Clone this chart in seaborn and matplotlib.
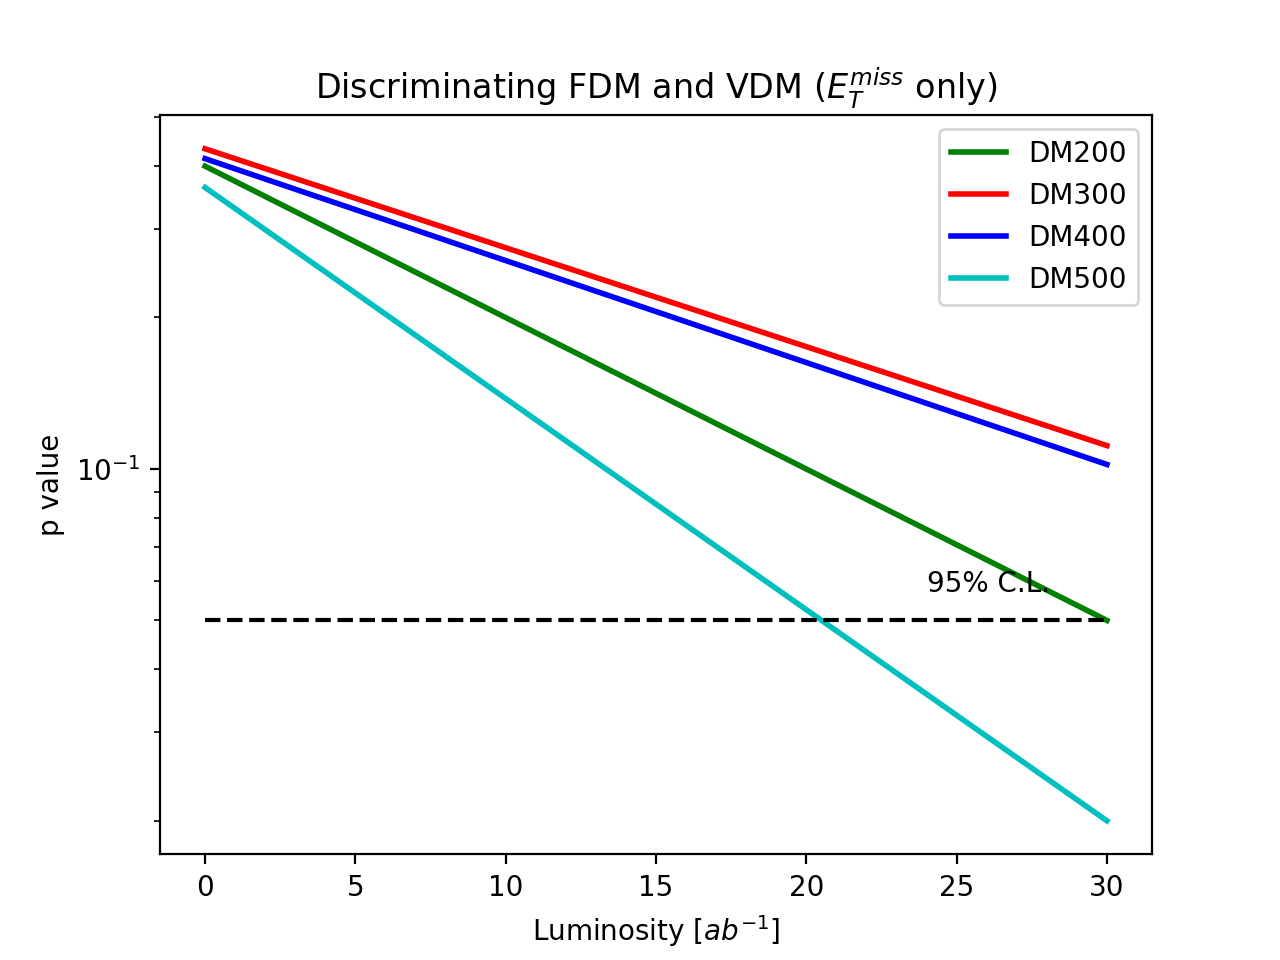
import matplotlib
matplotlib.use("Agg")
import matplotlib.pyplot as plt
import seaborn as sns
import pandas as pd

luminosity = [0, 30]
dm200 = [0.399, 0.050]
dm300 = [0.432, 0.1112]
dm400 = [0.413, 0.102]
dm500 = [0.362, 0.020]
series_names = ["DM200", "DM300", "DM400", "DM500"]
series_colors = ["g", "r", "b", "c"]
cl_value = 0.05

rows = []
for name, vals in zip(series_names, [dm200, dm300, dm400, dm500]):
    for x, y in zip(luminosity, vals):
        rows.append({"L": x, "p": y, "model": name})
df = pd.DataFrame(rows)

fig, ax = plt.subplots(figsize=(6.4, 4.8), dpi=200)
sns.lineplot(data=df, x="L", y="p", hue="model", palette=dict(zip(series_names, series_colors)),
             linewidth=2, ax=ax, legend=True)
cl_df = pd.DataFrame({"L": luminosity, "p": [cl_value] * len(luminosity)})
sns.lineplot(data=cl_df, x="L", y="p", color="k", linestyle="--", ax=ax, legend=False)
ax.set_yscale("log")
ax.text(24, 0.057, "95% C.L.")
ax.set_title(r"Discriminating FDM and VDM ($E_T^{miss}$ only)")
ax.set_xlabel(r"Luminosity [$ab^{-1}$]")
ax.set_ylabel("p value")
leg = ax.legend(loc="upper right")
fig.savefig("out.png", dpi=200)
